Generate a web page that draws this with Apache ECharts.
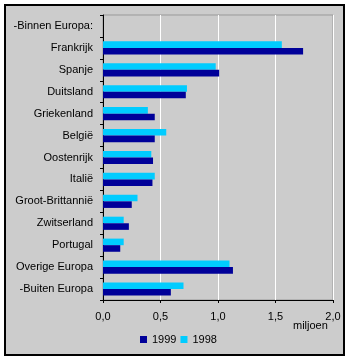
<!DOCTYPE html>
<html>
<head>
<meta charset="utf-8">
<script src="https://cdn.jsdelivr.net/npm/echarts@6/dist/echarts.min.js"></script>
<style>
  html, body { margin: 0; padding: 0; background: #fff; }
  #chart { width: 351px; height: 361px; }
</style>
</head>
<body>
<div id="chart"></div>
<script>
// categorieën (van boven naar beneden)
const categories = [
  "-Binnen Europa:", "Frankrijk", "Spanje", "Duitsland", "Griekenland", "België",
  "Oostenrijk", "Italië", "Groot-Brittannië", "Zwitserland", "Portugal",
  "Overige Europa", "-Buiten Europa"
];
// waarden in miljoen
const values1999 = [null, 1.74, 1.01, 0.72, 0.45, 0.45, 0.435, 0.43, 0.25, 0.225, 0.15, 1.13, 0.59];
const values1998 = [null, 1.555, 0.98, 0.73, 0.39, 0.55, 0.42, 0.45, 0.30, 0.18, 0.18, 1.10, 0.70];
const xTicks = [0, 0.5, 1, 1.5, 2];

const font = "Liberation Sans, Arial, sans-serif";
const chart = echarts.init(document.getElementById("chart"));

const option = {
  animation: false,
  backgroundColor: "#fff",
  textStyle: { fontFamily: font },
  graphic: [
    {
      // kader rond de grafiek
      type: "rect",
      z: -10,
      shape: { x: 5, y: 5, width: 339, height: 350 },
      style: { fill: "#cccccc", stroke: "#000", lineWidth: 2 },
    },
    {
      type: "text",
      left: 293,
      top: 320,
      style: { text: "miljoen", fontSize: 11, fontFamily: font, fill: "#000" },
    },
  ],
  grid: {
    left: 103,
    right: 18,
    top: 15,
    bottom: 61,
    show: true,
    backgroundColor: "transparent",
    borderColor: "#999",
    borderWidth: 1,
  },
  legend: {
    data: ["1999", "1998"],
    left: 140,
    top: 334,
    padding: 0,
    itemWidth: 7,
    itemHeight: 7,
    itemGap: 4,
    icon: "rect",
    textStyle: { fontSize: 11, fontFamily: font, color: "#000" },
  },
  xAxis: {
    type: "value",
    min: xTicks[0],
    max: xTicks[xTicks.length - 1],
    interval: 0.5,
    axisLine: { show: true, lineStyle: { color: "#000" } },
    axisTick: { show: true, length: 3, lineStyle: { color: "#000" } },
    axisLabel: {
      color: "#000",
      fontSize: 11,
      margin: 11,
      formatter: (v) => v.toFixed(1).replace(".", ","),
    },
    splitLine: { show: true, lineStyle: { color: "#fff", width: 1 } },
  },
  yAxis: {
    type: "category",
    data: categories,
    inverse: true,
    axisLine: { show: true, lineStyle: { color: "#000" } },
    axisTick: { show: true, length: 3, lineStyle: { color: "#000" } },
    axisLabel: { color: "#000", fontSize: 11, margin: 10 },
  },
  series: [
    {
      name: "1998",
      type: "bar",
      data: values1998,
      barGap: 0,
      barCategoryGap: "40%",
      itemStyle: { color: "#00ccff" },
    },
    {
      name: "1999",
      type: "bar",
      data: values1999,
      barGap: 0,
      barCategoryGap: "40%",
      itemStyle: { color: "#000099" },
    },
  ],
};

chart.setOption(option);
</script>
</body>
</html>
